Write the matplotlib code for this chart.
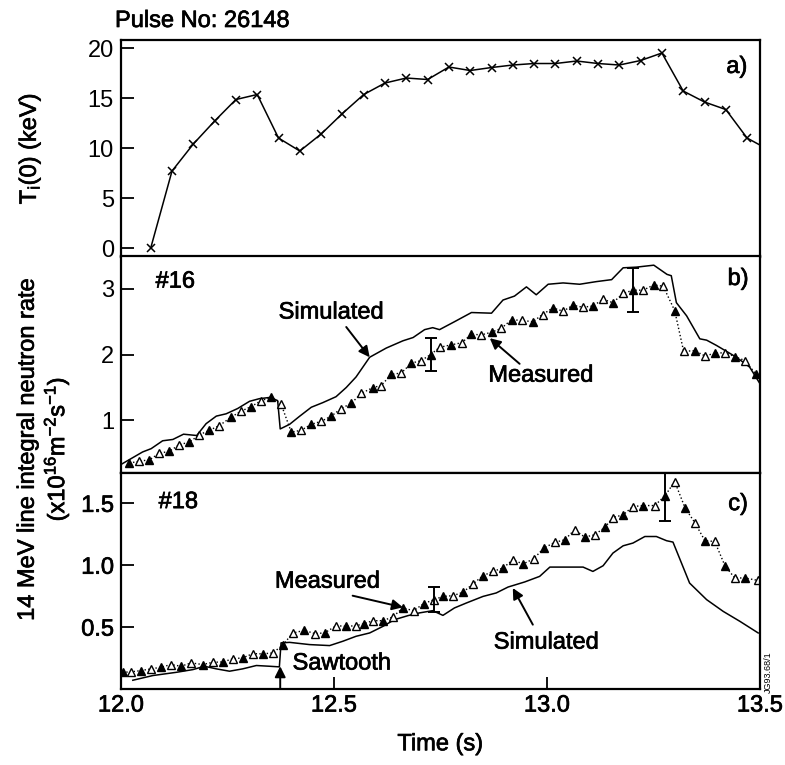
import numpy as np
import matplotlib
matplotlib.use("Agg")
import matplotlib.pyplot as plt
import matplotlib.patheffects as pe
from matplotlib.text import Text

plt.rcParams["font.family"] = ["Liberation Sans", "DejaVu Sans"]
plt.rcParams["mathtext.fontset"] = "custom"
plt.rcParams["mathtext.rm"] = "Liberation Sans"
plt.rcParams["mathtext.it"] = "Liberation Sans:italic"

FS = 17

# (a) central ion temperature, keV
t_ti = [12.07, 12.12, 12.17, 12.22, 12.27, 12.32, 12.37, 12.42, 12.47, 12.52,
        12.57, 12.62, 12.67, 12.72, 12.77, 12.82, 12.87, 12.92, 12.97, 13.02,
        13.07, 13.12, 13.17, 13.22, 13.27, 13.32, 13.37, 13.42, 13.47, 13.50]
ti = [0.0, 7.7, 10.4, 12.7, 14.85, 15.35, 11.0, 9.7, 11.4, 13.45,
      15.35, 16.5, 17.0, 16.85, 18.1, 17.75, 18.05, 18.3, 18.45, 18.45,
      18.7, 18.45, 18.3, 18.75, 19.5, 15.7, 14.6, 13.85, 11.0, 10.3]

# (b) channel #16, simulated
t_sim16 = [12.003, 12.051, 12.071, 12.098, 12.122, 12.147, 12.178, 12.200, 12.224,
           12.247, 12.274, 12.302, 12.325, 12.351, 12.368, 12.374, 12.396, 12.419,
           12.447, 12.474, 12.505, 12.529, 12.552, 12.584, 12.623, 12.662, 12.686,
           12.713, 12.732, 12.748, 12.783, 12.823, 12.870, 12.897, 12.924, 12.952,
           12.975, 13.003, 13.038, 13.077, 13.116, 13.152, 13.179, 13.210, 13.251,
           13.282, 13.292, 13.304, 13.328, 13.359, 13.375, 13.398, 13.445, 13.476,
           13.500]
sim16 = [0.34, 0.52, 0.57, 0.69, 0.71, 0.79, 0.77, 0.95, 1.065,
         1.10, 1.18, 1.29, 1.33, 1.35, 1.30, 0.87, 0.94, 1.06,
         1.20, 1.27, 1.36, 1.50, 1.66, 1.96, 2.10, 2.21, 2.26,
         2.38, 2.41, 2.38, 2.50, 2.64, 2.63, 2.83, 2.89, 3.03,
         2.91, 3.07, 3.09, 3.07, 3.11, 3.14, 3.32, 3.33, 3.36,
         3.22, 3.20, 2.79, 2.59, 2.24, 2.22, 2.14, 1.96, 1.81,
         1.56]

# (b) channel #16, measured
t_meas16 = [12.020, 12.043, 12.067, 12.090, 12.114, 12.137, 12.161, 12.184, 12.208,
            12.231, 12.259, 12.282, 12.306, 12.329, 12.353, 12.376, 12.400, 12.423,
            12.447, 12.470, 12.494, 12.517, 12.541, 12.564, 12.592, 12.611, 12.635,
            12.658, 12.682, 12.705, 12.727, 12.748, 12.776, 12.800, 12.823, 12.846,
            12.870, 12.893, 12.917, 12.942, 12.967, 12.990, 13.014, 13.038, 13.061,
            13.085, 13.108, 13.132, 13.155, 13.179, 13.202, 13.226, 13.251, 13.273,
            13.300, 13.321, 13.347, 13.371, 13.394, 13.418, 13.441, 13.465, 13.491]
meas16 = [0.35, 0.38, 0.40, 0.50, 0.53, 0.63, 0.67, 0.78, 0.85,
          0.92, 1.05, 1.14, 1.21, 1.30, 1.35, 1.25, 0.82, 0.85,
          0.94, 0.985, 1.065, 1.18, 1.26, 1.41, 1.50, 1.53, 1.70,
          1.72, 1.87, 1.91, 2.00, 2.11, 2.15, 2.18, 2.31, 2.30,
          2.34, 2.40, 2.53, 2.52, 2.50, 2.61, 2.71, 2.66, 2.75,
          2.72, 2.74, 2.84, 2.79, 2.93, 2.98, 2.98, 3.06, 3.04,
          2.67, 2.05, 2.06, 1.98, 2.02, 2.03, 1.97, 1.91, 1.70]
t_err16 = [12.727, 13.202]
val_err16 = [2.00, 2.98]
err16 = [0.25, 0.33]

# (c) channel #18, simulated
t_sim18 = [12.028, 12.075, 12.130, 12.169, 12.196, 12.224, 12.255, 12.286, 12.318,
           12.349, 12.372, 12.376, 12.396, 12.443, 12.490, 12.521, 12.552, 12.584,
           12.615, 12.642, 12.674, 12.701, 12.732, 12.756, 12.783, 12.811, 12.850,
           12.881, 12.909, 12.948, 12.983, 13.007, 13.046, 13.085, 13.108, 13.132,
           13.155, 13.179, 13.202, 13.230, 13.257, 13.281, 13.296, 13.335, 13.375,
           13.414, 13.453, 13.496]
sim18 = [0.071, 0.109, 0.135, 0.157, 0.184, 0.163, 0.144, 0.163, 0.190,
         0.184, 0.179, 0.373, 0.377, 0.359, 0.351, 0.386, 0.426, 0.453,
         0.506, 0.560, 0.593, 0.615, 0.633, 0.595, 0.655, 0.695, 0.748,
         0.776, 0.824, 0.865, 0.910, 0.985, 0.985, 0.985, 0.950, 0.996,
         1.098, 1.157, 1.179, 1.232, 1.232, 1.198, 1.187, 0.856, 0.722,
         0.627, 0.547, 0.453]

# (c) channel #18, measured
t_meas18 = [12.004, 12.024, 12.047, 12.071, 12.094, 12.118, 12.141, 12.165, 12.192,
            12.216, 12.239, 12.263, 12.286, 12.310, 12.333, 12.357, 12.380, 12.404,
            12.431, 12.455, 12.478, 12.506, 12.529, 12.552, 12.570, 12.591, 12.615,
            12.638, 12.662, 12.687, 12.711, 12.735, 12.756, 12.779, 12.803, 12.826,
            12.850, 12.873, 12.897, 12.920, 12.944, 12.969, 12.993, 13.018, 13.042,
            13.065, 13.089, 13.112, 13.136, 13.155, 13.179, 13.202, 13.226, 13.253,
            13.277, 13.300, 13.324, 13.347, 13.371, 13.394, 13.418, 13.441, 13.465,
            13.496]
meas18 = [0.135, 0.139, 0.149, 0.163, 0.176, 0.198, 0.184, 0.211, 0.198,
          0.216, 0.219, 0.244, 0.252, 0.286, 0.284, 0.292, 0.356, 0.453,
          0.474, 0.448, 0.453, 0.512, 0.506, 0.512, 0.526, 0.552, 0.552,
          0.582, 0.655, 0.633, 0.690, 0.722, 0.748, 0.754, 0.781, 0.848,
          0.915, 0.950, 0.977, 1.044, 1.010, 1.052, 1.139, 1.184, 1.206,
          1.286, 1.227, 1.246, 1.305, 1.385, 1.407, 1.474, 1.482, 1.482,
          1.560, 1.676, 1.466, 1.345, 1.198, 1.192, 0.996, 0.897, 0.897,
          0.877]
t_err18 = [12.735, 13.277]
val_err18 = [0.722, 1.560]
err18 = [0.10, 0.20]


def measured(ax, t, v):
    t = np.asarray(t)
    v = np.asarray(v)
    ax.plot(t, v, ls=":", color="k", lw=1.0)
    ax.plot(t[::2], v[::2], ls="none", marker="^", ms=6, mfc="k", mec="k")
    ax.plot(t[1::2], v[1::2], ls="none", marker="^", ms=6, mfc="white",
            mec="k", mew=1.0)


def arrow(ax, tip, tail):
    ax.annotate("", xy=tip, xytext=tail,
                arrowprops=dict(arrowstyle="-|>", color="k", lw=1.4,
                                mutation_scale=16, shrinkA=0, shrinkB=0))


fig = plt.figure(figsize=(7.85, 7.65), dpi=100)
left, width = 0.154, 0.814
ax_a = fig.add_axes([left, 0.664, width, 0.2837])
ax_b = fig.add_axes([left, 0.3817, width, 0.2837], sharex=ax_a)
ax_c = fig.add_axes([left, 0.0993, width, 0.2824], sharex=ax_a)

for ax in (ax_a, ax_b, ax_c):
    for s in ax.spines.values():
        s.set_linewidth(1.6)
    ax.tick_params(direction="in", length=9, width=1.3, labelsize=FS, pad=5)
for ax in (ax_a, ax_b):
    ax.tick_params(axis="x", bottom=False, labelbottom=False)

# a) ion temperature
ax_a.plot(t_ti, ti, color="k", lw=1.1, marker="x", ms=6, mew=1.1,
          markevery=list(range(len(t_ti) - 1)))
ax_a.set_ylim(-0.9, 20.8)
ax_a.set_yticks([0, 5, 10, 15, 20])
ax_a.set_ylabel(r"T$_\mathrm{i}$(0) (keV)", fontsize=FS)
ax_a.yaxis.set_label_coords(-0.122, 0.5)
ax_a.text(0.964, 0.876, "a)", transform=ax_a.transAxes, fontsize=FS,
          ha="center", va="center")

# b) channel 16
ax_b.plot(t_sim16, sim16, color="k", lw=1.1)
measured(ax_b, t_meas16, meas16)
ax_b.errorbar(t_err16, val_err16, yerr=err16, fmt="none", ecolor="k",
              elinewidth=1.4, capsize=4, capthick=1.4)
ax_b.set_ylim(0.2, 3.5)
ax_b.set_yticks([1, 2, 3])
ax_b.text(12.128, 3.11, "#16", fontsize=FS, ha="center", va="center")
ax_b.text(0.966, 0.894, "b)", transform=ax_b.transAxes, fontsize=FS,
          ha="center", va="center")
ax_b.text(12.494, 2.64, "Simulated", fontsize=FS, ha="center", va="center")
arrow(ax_b, (12.584, 1.96), (12.529, 2.42))
ax_b.text(12.986, 1.68, "Measured", fontsize=FS, ha="center", va="center")
arrow(ax_b, (12.866, 2.25), (12.936, 1.86))

# c) channel 18
ax_c.plot(t_sim18, sim18, color="k", lw=1.1)
measured(ax_c, t_meas18, meas18)
ax_c.errorbar(t_err18, val_err18, yerr=err18, fmt="none", ecolor="k",
              elinewidth=1.4, capsize=4, capthick=1.4)
ax_c.set_ylim(0.0, 1.745)
ax_c.set_yticks([0.5, 1.0, 1.5])
ax_c.set_yticklabels(["0.5", "1.0", "1.5"])
ax_c.set_xlim(12.0, 13.5)
ax_c.set_xticks([12.0, 12.5, 13.0, 13.5])
ax_c.set_xticklabels(["12.0", "12.5", "13.0", "13.5"])
ax_c.tick_params(axis="x", pad=4)
ax_c.set_xlabel("Time (s)", fontsize=FS, labelpad=12)
ax_c.text(12.135, 1.51, "#18", fontsize=FS, ha="center", va="center")
ax_c.text(0.966, 0.856, "c)", transform=ax_c.transAxes, fontsize=FS,
          ha="center", va="center")
ax_c.text(12.485, 0.867, "Measured", fontsize=FS, ha="center", va="center")
arrow(ax_c, (12.662, 0.66), (12.544, 0.754))
ax_c.text(12.999, 0.375, "Simulated", fontsize=FS, ha="center", va="center")
arrow(ax_c, (12.92, 0.816), (12.967, 0.52))
ax_c.text(12.403, 0.206, "Sawtooth", fontsize=FS, ha="left", va="center")
arrow(ax_c, (12.374, 0.184), (12.374, 0.0))

fig.text(44 / 785, 1 - 449 / 765,
         "14 MeV line integral neutron rate\n"
         r"(x10$^{16}$m$^{-2}$s$^{-1}$)",
         rotation=90, fontsize=FS, ha="center", va="center",
         multialignment="center", linespacing=1.1)
fig.text(115 / 785, 1 - 21 / 765, "Pulse No: 26148", fontsize=FS,
         ha="left", va="center")

# thicken the glyphs slightly so the lettering reads heavier
for txt in fig.findobj(Text):
    if txt.get_text():
        txt.set_path_effects([pe.withStroke(linewidth=0.5, foreground="k")])

# figure reference number, left thin
fig.text(768 / 785, 1 - 672 / 765, "JG93.68/1", fontsize=6.5,
         rotation=90, ha="center", va="center")

fig.savefig("out.png", dpi=100)
